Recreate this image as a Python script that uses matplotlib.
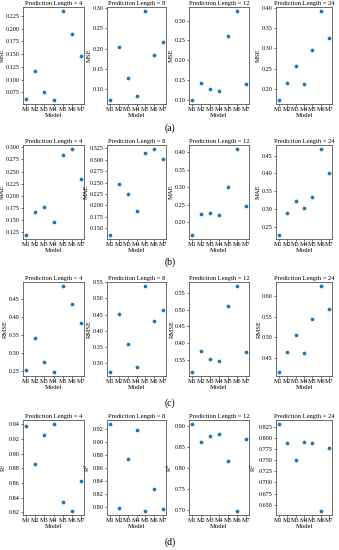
import numpy as np
import matplotlib
matplotlib.use("Agg")
import matplotlib.pyplot as plt
from matplotlib.ticker import MaxNLocator

plt.rcParams['font.family'] = ['Liberation Serif', 'DejaVu Serif']
plt.rcParams['mathtext.fontset'] = 'stix'

models = ['M1', 'M2', 'M3', 'M4', 'M5', 'M6', 'M7']
pred_lengths = [4, 8, 12, 24]

mse = [
    [0.063, 0.117, 0.076, 0.061, 0.234, 0.190, 0.146],
    [0.075, 0.205, 0.129, 0.083, 0.291, 0.183, 0.215],
    [0.100, 0.143, 0.127, 0.122, 0.262, 0.323, 0.140],
    [0.174, 0.215, 0.256, 0.213, 0.297, 0.391, 0.325],
]
mae = [
    [0.120, 0.166, 0.178, 0.146, 0.284, 0.296, 0.234],
    [0.136, 0.248, 0.226, 0.188, 0.315, 0.323, 0.301],
    [0.165, 0.225, 0.228, 0.222, 0.302, 0.408, 0.247],
    [0.227, 0.288, 0.322, 0.301, 0.332, 0.468, 0.400],
]
rmse = [
    [0.252, 0.341, 0.276, 0.248, 0.484, 0.436, 0.382],
    [0.272, 0.453, 0.358, 0.287, 0.538, 0.429, 0.465],
    [0.316, 0.378, 0.355, 0.349, 0.511, 0.569, 0.374],
    [0.417, 0.464, 0.505, 0.462, 0.545, 0.623, 0.569],
]
r2 = [
    [0.938, 0.886, 0.925, 0.940, 0.834, 0.822, 0.863],
    [0.927, 0.799, 0.874, 0.918, 0.795, 0.828, 0.798],
    [0.903, 0.860, 0.876, 0.880, 0.815, 0.698, 0.869],
    [0.830, 0.789, 0.750, 0.790, 0.789, 0.637, 0.778],
]

metrics = [('MSE', mse), ('MAE', mae), ('RMSE', rmse), ('R$^2$', r2)]
panel_tags = ['(a)', '(b)', '(c)', '(d)']

W, H = 339, 550
fig = plt.figure(figsize=(W / 100, H / 100), dpi=100)

# pixel layout: left/right of each column, top/bottom of each row
cols = [(23, 84), (107, 166), (189, 249), (276, 332)]
rows = [(7, 104), (145, 239), (282, 376), (420, 515)]
tag_y = [128, 262, 403, 542]

fs = 4.4
for r, (name, data) in enumerate(metrics):
    top, bot = rows[r]
    for c, (l, rt) in enumerate(cols):
        ax = fig.add_axes([l / W, 1 - bot / H, (rt - l) / W, (bot - top) / H])
        ax.scatter(models, data[c], s=2.8, color='#1f77b4', zorder=3)
        ax.set_title(f'Prediction Length = {pred_lengths[c]}', fontsize=fs + 0.3, pad=1.5)
        ax.set_xlabel('Model', fontsize=fs + 0.4, labelpad=0.5)
        ax.set_ylabel(name, fontsize=fs + 0.4, labelpad=0.5)
        ax.tick_params(labelsize=fs, length=1.5, width=0.4, pad=0.8)
        ax.margins(x=0.05, y=0.05)
        ax.yaxis.set_major_locator(MaxNLocator(nbins=9, steps=[1, 2, 2.5, 5, 10]))
        for s in ax.spines.values():
            s.set_linewidth(0.6)
            s.set_color('#555555')
    fig.text(170 / W, 1 - tag_y[r] / H, panel_tags[r], fontsize=7, ha='center', va='center')

fig.savefig('out.png', dpi=100)
